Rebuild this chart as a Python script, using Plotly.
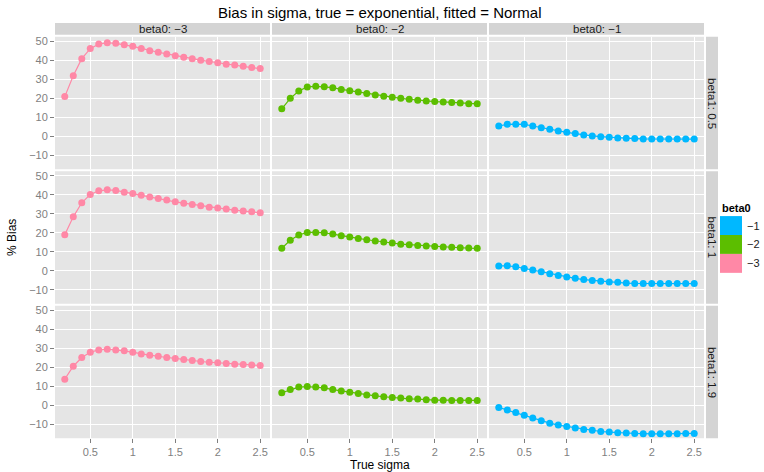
import plotly.graph_objects as go

W, H = 764, 472

sigma = [0.2, 0.3, 0.4, 0.5, 0.6, 0.7, 0.8, 0.9, 1.0, 1.1, 1.2, 1.3,
         1.4, 1.5, 1.6, 1.7, 1.8, 1.9, 2.0, 2.1, 2.2, 2.3, 2.4, 2.5]

beta0_levels = [-3, -2, -1]
beta1_levels = [0.5, 1, 1.9]

bias_b1_05_b0_m3 = [20.9, 31.9, 40.9, 46.2, 48.6, 49.3, 49.0, 48.3, 47.4, 46.3, 45.1, 44.3,
                    43.4, 42.5, 41.6, 40.8, 40.1, 39.4, 38.7, 38.0, 37.5, 36.9, 36.2, 35.7]
bias_b1_05_b0_m2 = [14.5, 20.0, 23.9, 26.0, 26.3, 26.1, 25.6, 24.7, 24.0, 23.3, 22.5, 21.8,
                    21.1, 20.6, 20.0, 19.5, 19.0, 18.6, 18.3, 18.1, 17.8, 17.6, 17.2, 17.1]
bias_b1_05_b0_m1 = [5.4, 6.3, 6.4, 6.3, 5.4, 4.5, 3.7, 2.8, 2.1, 1.4, 0.7, 0.2,
                    -0.2, -0.5, -0.9, -1.0, -1.2, -1.4, -1.4, -1.5, -1.5, -1.5, -1.5, -1.5]
bias_b1_1_b0_m3 = [18.9, 28.4, 35.8, 40.2, 42.1, 42.6, 42.3, 41.4, 40.7, 39.8, 38.9, 38.1,
                   37.2, 36.3, 35.6, 34.9, 34.2, 33.5, 33.0, 32.5, 31.9, 31.4, 31.1, 30.5]
bias_b1_1_b0_m2 = [11.8, 16.0, 18.8, 20.2, 20.2, 20.0, 19.3, 18.4, 17.7, 17.0, 16.3, 15.6,
                   15.1, 14.6, 14.0, 13.7, 13.3, 13.0, 12.8, 12.5, 12.3, 12.1, 11.9, 11.8]
bias_b1_1_b0_m1 = [2.5, 2.6, 2.1, 1.2, 0.4, -0.5, -1.6, -2.5, -3.3, -4.0, -4.7, -5.1,
                   -5.6, -6.0, -6.1, -6.5, -6.7, -6.7, -6.8, -6.8, -6.8, -6.8, -6.8, -6.8]
bias_b1_19_b0_m3 = [13.7, 20.5, 25.1, 27.9, 29.1, 29.5, 29.1, 28.6, 27.9, 27.0, 26.3, 25.8,
                    25.1, 24.6, 24.0, 23.5, 23.0, 22.6, 22.3, 21.9, 21.6, 21.4, 21.1, 20.9]
bias_b1_19_b0_m2 = [6.5, 8.2, 9.5, 9.8, 9.6, 9.1, 8.2, 7.5, 6.8, 6.1, 5.4, 4.9,
                    4.4, 4.0, 3.7, 3.3, 3.2, 2.8, 2.6, 2.6, 2.5, 2.5, 2.5, 2.5]
bias_b1_19_b0_m1 = [-1.2, -2.6, -3.9, -5.3, -6.8, -8.2, -9.5, -10.5, -11.2, -12.1, -12.8, -13.3,
                    -13.9, -14.2, -14.6, -14.7, -14.9, -15.1, -15.1, -15.1, -15.1, -15.1, -14.9, -14.9]

bias = [
    [bias_b1_05_b0_m3, bias_b1_05_b0_m2, bias_b1_05_b0_m1],
    [bias_b1_1_b0_m3, bias_b1_1_b0_m2, bias_b1_1_b0_m1],
    [bias_b1_19_b0_m3, bias_b1_19_b0_m2, bias_b1_19_b0_m1],
]

colors = {-3: "#FF88A6", -2: "#5CBE00", -1: "#00B8FF"}

x_ticks = [0.5, 1, 1.5, 2, 2.5]
x_ticktext = ["0.5", "1", "1.5", "2", "2.5"]
y_ticks = [-10, 0, 10, 20, 30, 40, 50]
y_ticktext = ["\u221210", "0", "10", "20", "30", "40", "50"]

# window-pixel layout
col_px = [(55, 270), (272, 487), (489, 704)]
row_px = [(35, 168), (170, 303), (305, 438)]


def px_x(a):
    return a / W


def px_y(b):
    return 1 - b / H


fig = go.Figure()
shapes = []
annotations = []

for r in range(3):
    for c in range(3):
        idx = r * 3 + c + 1
        xa = "x" if idx == 1 else f"x{idx}"
        ya = "y" if idx == 1 else f"y{idx}"
        b0 = beta0_levels[c]
        fig.add_trace(go.Scatter(
            x=sigma, y=bias[r][c], mode="lines+markers",
            line=dict(color=colors[b0], width=1.2),
            marker=dict(color=colors[b0], size=7),
            xaxis=xa, yaxis=ya, showlegend=False, hoverinfo="x+y"))
        xl = "xaxis" if idx == 1 else f"xaxis{idx}"
        yl = "yaxis" if idx == 1 else f"yaxis{idx}"
        x0, x1 = col_px[c]
        y0, y1 = row_px[r]
        fig.layout[xl] = dict(
            domain=[px_x(x0), px_x(x1)], anchor=ya, range=[0.085, 2.615],
            tickvals=x_ticks, ticktext=x_ticktext, showticklabels=(r == 2),
            ticks="outside" if r == 2 else "", ticklen=4, tickcolor="#7F7F7F",
            tickfont=dict(size=11, color="#7F7F7F", family="Liberation Sans"),
            showgrid=True, gridcolor="white", gridwidth=1.3, zeroline=False,
            showline=False, fixedrange=True)
        fig.layout[yl] = dict(
            domain=[px_y(y1), px_y(y0)], anchor=xa, range=[-17.4, 52.4],
            tickvals=y_ticks, ticktext=y_ticktext, showticklabels=(c == 0),
            ticks="outside" if c == 0 else "", ticklen=4, tickcolor="#7F7F7F",
            tickfont=dict(size=11, color="#7F7F7F", family="Liberation Sans"),
            showgrid=True, gridcolor="white", gridwidth=1.3, zeroline=False,
            showline=False, fixedrange=True)
        shapes.append(dict(type="rect", xref="paper", yref="paper",
                           x0=px_x(x0), x1=px_x(x1), y0=px_y(y1), y1=px_y(y0),
                           fillcolor="#E5E5E5", line=dict(width=0), layer="below"))

# top strips
for c in range(3):
    x0, x1 = col_px[c]
    shapes.append(dict(type="rect", xref="paper", yref="paper",
                       x0=px_x(x0), x1=px_x(x1), y0=px_y(33), y1=px_y(21),
                       fillcolor="#D4D4D4", line=dict(width=0), layer="below"))
    annotations.append(dict(x=px_x((x0 + x1) / 2), y=px_y(27), xref="paper", yref="paper",
                            text=f"beta0: \u2212{abs(beta0_levels[c])}", showarrow=False,
                            font=dict(size=11.5, color="#1A1A1A", family="Liberation Sans"),
                            xanchor="center", yanchor="middle"))

# right strips
for r in range(3):
    y0, y1 = row_px[r]
    shapes.append(dict(type="rect", xref="paper", yref="paper",
                       x0=px_x(706), x1=px_x(718), y0=px_y(y1), y1=px_y(y0),
                       fillcolor="#D4D4D4", line=dict(width=0), layer="below"))
    annotations.append(dict(x=px_x(712), y=px_y((y0 + y1) / 2), xref="paper", yref="paper",
                            text=f"beta1: {beta1_levels[r]:g}", showarrow=False, textangle=90,
                            font=dict(size=11.5, color="#1A1A1A", family="Liberation Sans"),
                            xanchor="center", yanchor="middle"))

# legend (ggplot style)
annotations.append(dict(x=px_x(720), y=px_y(207), xref="paper", yref="paper",
                        text="<b>beta0</b>", showarrow=False, xanchor="left", yanchor="middle",
                        font=dict(size=11, color="black", family="Liberation Sans")))
leg_levels = [-1, -2, -3]
for i, lv in enumerate(leg_levels):
    ky0 = 215 + i * 19
    shapes.append(dict(type="rect", xref="paper", yref="paper",
                       x0=px_x(720), x1=px_x(742), y0=px_y(ky0 + 19), y1=px_y(ky0),
                       fillcolor=colors[lv], line=dict(width=0)))
    annotations.append(dict(x=px_x(745), y=px_y(ky0 + 9.5), xref="paper", yref="paper",
                            text=f"\u2212{abs(lv)}", showarrow=False, xanchor="left",
                            yanchor="middle",
                            font=dict(size=11, color="#1A1A1A", family="Liberation Sans")))

# titles
annotations.append(dict(x=px_x(380), y=px_y(11), xref="paper", yref="paper",
                        text="Bias in sigma, true = exponential, fitted = Normal",
                        showarrow=False, xanchor="center", yanchor="middle",
                        font=dict(size=15, color="black", family="Liberation Sans")))
annotations.append(dict(x=px_x(380), y=px_y(465), xref="paper", yref="paper",
                        text="True sigma", showarrow=False, xanchor="center", yanchor="middle",
                        font=dict(size=12, color="black", family="Liberation Sans")))
annotations.append(dict(x=px_x(12), y=px_y(237), xref="paper", yref="paper",
                        text="% Bias", showarrow=False, textangle=-90,
                        xanchor="center", yanchor="middle",
                        font=dict(size=12, color="black", family="Liberation Sans")))

fig.update_layout(
    width=W, height=H, margin=dict(l=0, r=0, t=0, b=0),
    paper_bgcolor="white", plot_bgcolor="rgba(0,0,0,0)",
    shapes=shapes, annotations=annotations, showlegend=False,
    font=dict(family="Liberation Sans"),
)

fig.write_html(
    "out.html",
    config={"displayModeBar": False},
    post_script="document.body.style.margin='0px';document.body.style.overflow='hidden';",
)
